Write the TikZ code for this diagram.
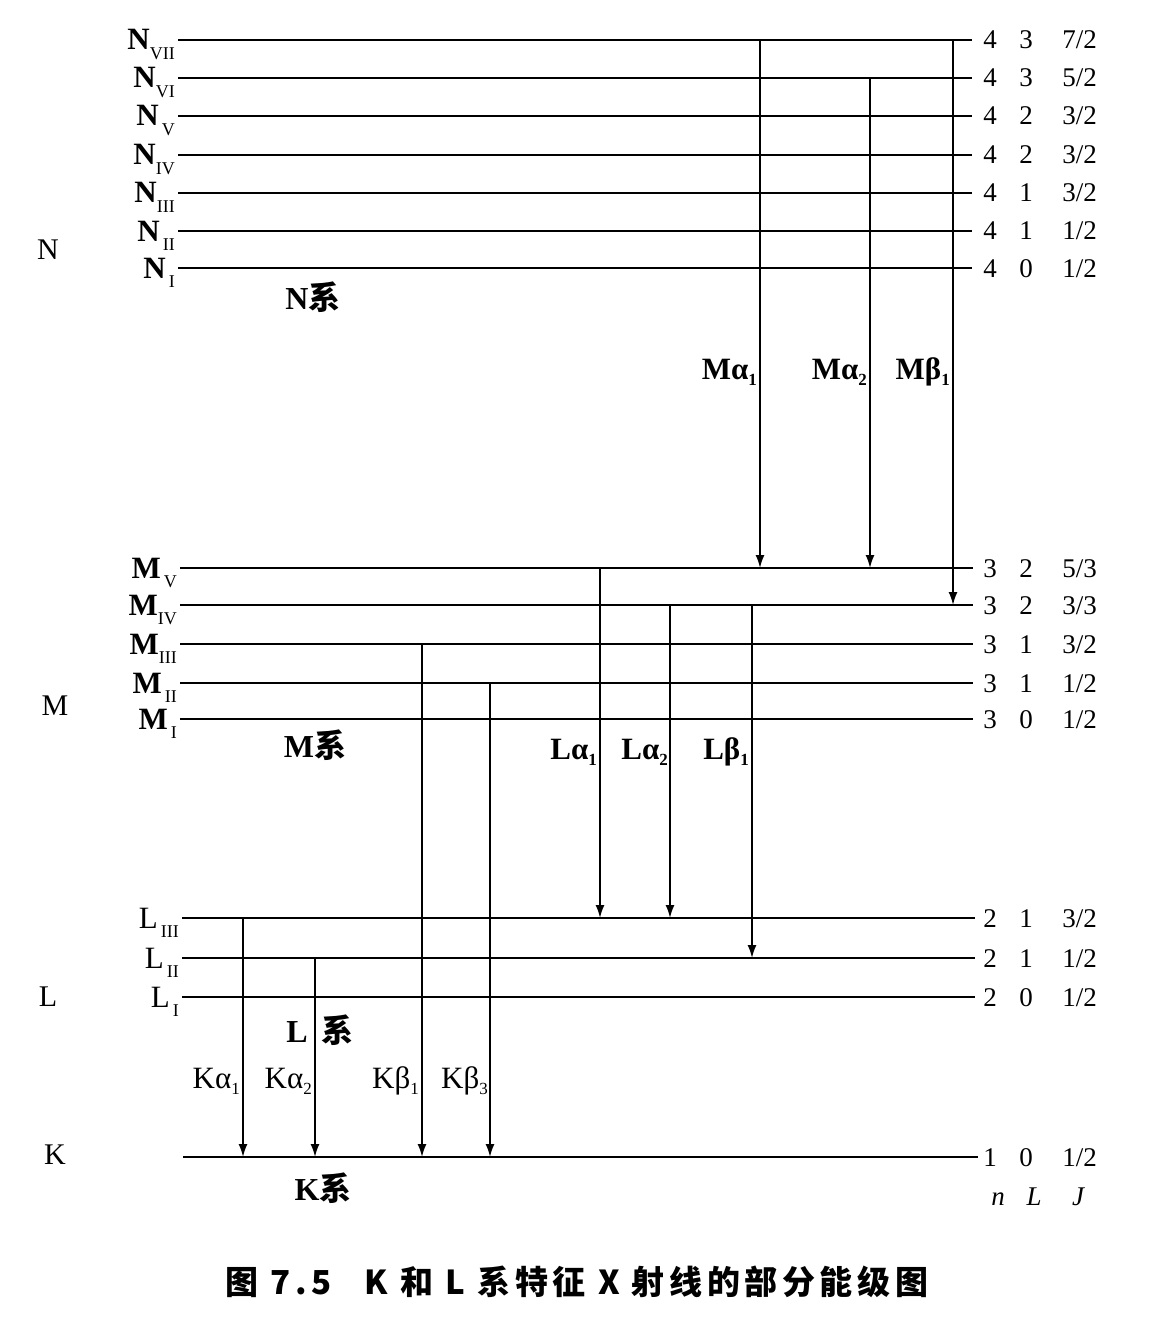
\documentclass[tikz,border=0pt]{standalone}
\usepackage{fontspec}
\setmainfont{Liberation Serif}
\newfontfamily\cjk{Noto Sans CJK SC}
\newfontfamily\cjkcap[LetterSpace=14]{Noto Sans CJK SC}
\usetikzlibrary{arrows.meta}
\newcommand\sbx[1]{\raisebox{-0.3em}{\fontsize{18}{18}\selectfont #1}}
\newcommand\asb[1]{\raisebox{-0.2em}{\fontsize{17}{17}\selectfont #1}}
\begin{document}
\begin{tikzpicture}[x=1pt,y=-1pt,
  lvl/.style={line width=1.9pt},
  arr/.style={line width=1.7pt,-{Latex[length=13pt,width=9pt]}},
  txt/.style={font=\fontsize{27}{30}\selectfont,inner sep=0pt},
  ltxt/.style={font=\fontsize{31}{32}\selectfont,inner sep=0pt},
  btxt/.style={font=\fontsize{31}{32}\selectfont\bfseries,inner sep=0pt},
  ktxt/.style={font=\fontsize{31}{32}\selectfont,inner sep=0pt},
  grp/.style={font=\fontsize{30}{32}\selectfont,inner sep=0pt},
  sys/.style={font=\fontsize{32}{34}\selectfont\bfseries,inner sep=0pt}]
\useasboundingbox (0,0) rectangle (1158,1324);
% levels: name / y / x-start / x-end / label / n / L / J numerator / J denominator
\foreach \n/\y/\xs/\xe/\lab/\nn/\ll/\ja/\jb in {
  NVII/40/178/972/{\textbf{N}\sbx{VII}}/4/3/7/2,
  NVI/78/178/972/{\textbf{N}\sbx{VI}}/4/3/5/2,
  NV/116/178/972/{\textbf{N}\sbx{\,V}}/4/2/3/2,
  NIV/155/178/972/{\textbf{N}\sbx{IV}}/4/2/3/2,
  NIII/193/178/972/{\textbf{N}\sbx{III}}/4/1/3/2,
  NII/231/178/972/{\textbf{N}\sbx{\,II}}/4/1/1/2,
  NI/268/178/972/{\textbf{N}\sbx{\,I}}/4/0/1/2,
  MV/568/180/973/{\textbf{M}\sbx{\,V}}/3/2/5/3,
  MIV/605/180/973/{\textbf{M}\sbx{IV}}/3/2/3/3,
  MIII/644/180/973/{\textbf{M}\sbx{III}}/3/1/3/2,
  MII/683/180/973/{\textbf{M}\sbx{\,II}}/3/1/1/2,
  MI/719/180/973/{\textbf{M}\sbx{\,I}}/3/0/1/2,
  LIII/918/182/975/{L\sbx{\,III}}/2/1/3/2,
  LII/958/182/975/{L\sbx{\,II}}/2/1/1/2,
  LI/997/182/975/{L\sbx{\,I}}/2/0/1/2,
  K/1157/183/978/{}/1/0/1/2}{
  \coordinate (\n-w) at (\xs,\y);
  \coordinate (\n-e) at (\xe,\y);
  \draw[lvl] (\n-w) -- (\n-e);
  \node[ltxt,anchor=base east] (\n-lab) at (\xs-3,\y+10) {\lab};
  \node[txt,anchor=base] (\n-n) at (990,\y+9) {\nn};
  \node[txt,anchor=base] (\n-l) at (1026,\y+9) {\ll};
  \node[txt,anchor=base east] (\n-j) at (1097,\y+9) {\ja/\jb};
}
% column heads
\node[txt,anchor=base,font=\fontsize{27}{30}\selectfont\itshape] (hn) at (998,1205) {n};
\node[txt,anchor=base,font=\fontsize{27}{30}\selectfont\itshape] (hl) at (1034,1205) {L};
\node[txt,anchor=base,font=\fontsize{27}{30}\selectfont\itshape] (hj) at (1078,1205) {J};
% group letters
\node[grp] (gN) at (48,250) {N};
\node[grp] (gM) at (55,706) {M};
\node[grp] (gL) at (48,997) {L};
\node[grp] (gK) at (55,1155) {K};
% series labels
\node[sys] (sN) at (313,297) {N{\cjk\bfseries 系}};
\node[sys] (sM) at (315,745) {M{\cjk\bfseries 系}};
\node[sys] (sL) at (320,1030) {L\hspace{14pt}{\cjk\bfseries 系}};
\node[sys] (sK) at (323,1188) {K{\cjk\bfseries 系}};
% arrow x positions
\foreach \c/\x in {Ma1/760,Ma2/870,Mb1/953,La1/600,La2/670,Lb1/752,Ka1/243,Ka2/315,Kb1/422,Kb3/490}
  \coordinate (x\c) at (\x,0);
% transitions
\draw[arr] (xMa1 |- NVII-w) -- (xMa1 |- MV-w);
\draw[arr] (xMa2 |- NVI-w) -- (xMa2 |- MV-w);
\draw[arr] (xMb1 |- NVII-w) -- (xMb1 |- MIV-w);
\draw[arr] (xLa1 |- MV-w) -- (xLa1 |- LIII-w);
\draw[arr] (xLa2 |- MIV-w) -- (xLa2 |- LIII-w);
\draw[arr] (xLb1 |- MIV-w) -- (xLb1 |- LII-w);
\draw[arr] (xKa1 |- LIII-w) -- (xKa1 |- K-w);
\draw[arr] (xKa2 |- LII-w) -- (xKa2 |- K-w);
\draw[arr] (xKb1 |- MIII-w) -- (xKb1 |- K-w);
\draw[arr] (xKb3 |- MII-w) -- (xKb3 |- K-w);
% transition labels
\node[btxt,anchor=base east] (lMa1) at (757,379) {Mα\asb{1}};
\node[btxt,anchor=base east] (lMa2) at (867,379) {Mα\asb{2}};
\node[btxt,anchor=base east] (lMb1) at (950,379) {Mβ\asb{1}};
\node[btxt,anchor=base east] (lLa1) at (597,759) {Lα\asb{1}};
\node[btxt,anchor=base east] (lLa2) at (668,759) {Lα\asb{2}};
\node[btxt,anchor=base east] (lLb1) at (749,759) {Lβ\asb{1}};
\node[ktxt,anchor=base east] (lKa1) at (240,1088) {Kα\asb{1}};
\node[ktxt,anchor=base east] (lKa2) at (312,1088) {Kα\asb{2}};
\node[ktxt,anchor=base east] (lKb1) at (419,1088) {Kβ\asb{1}};
\node[ktxt,anchor=base east] (lKb3) at (488,1088) {Kβ\asb{3}};
% caption
\node[inner sep=0pt,font=\cjkcap\bfseries\fontsize{33}{35}\selectfont] (cap) at (577,1282)
  {图 7.5\quad K 和 L 系特征 X 射线的部分能级图};
\end{tikzpicture}
\end{document}
